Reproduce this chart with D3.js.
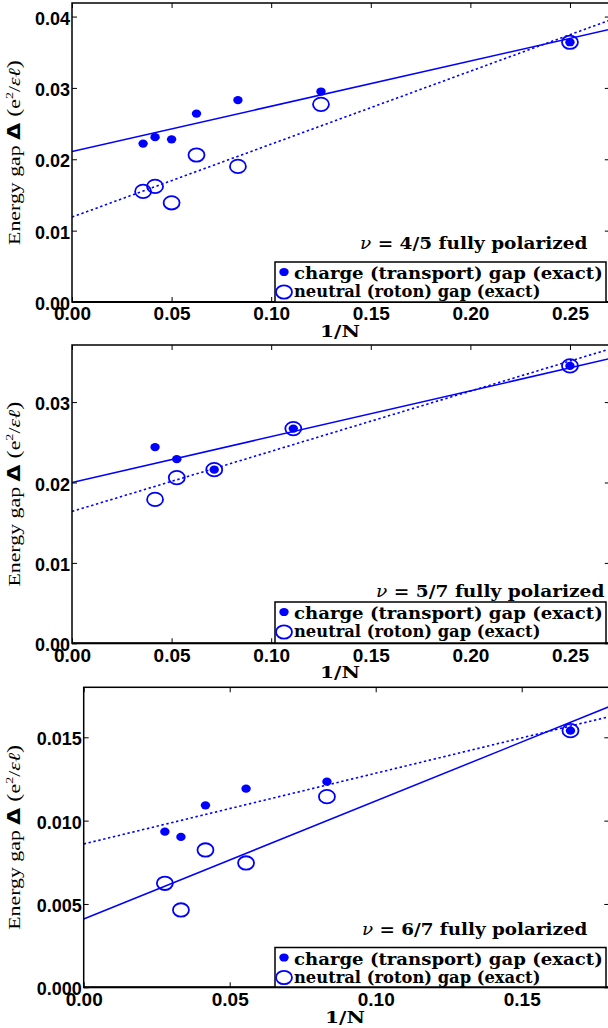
<!DOCTYPE html>
<html><head><meta charset="utf-8">
<script src="https://cdn.jsdelivr.net/npm/d3@7"></script>
<style>body{margin:0;background:#fff}</style>
</head><body><svg id="c" width="608" height="1028" xmlns="http://www.w3.org/2000/svg"></svg>
<script>
// ---------- data ----------
const nuLabels = ["4/5", "5/7", "6/7"];
const legendLabels = ["charge (transport) gap (exact)", "neutral (roton) gap (exact)"];

// panel 1 : nu = 4/5
const invN1    = [0.0357, 0.0417, 0.0500, 0.0625, 0.0833, 0.1250, 0.2500];
const charge1  = [0.0222, 0.0231, 0.0228, 0.0264, 0.0283, 0.0295, 0.0364];
const neutral1 = [0.0155, 0.0162, 0.0139, 0.0206, 0.0190, 0.0277, 0.0364];
const fitX1 = [0, 0.27];
const fitSolid1  = [0.0211, 0.0382];
const fitDotted1 = [0.0119, 0.0395];

// panel 2 : nu = 5/7
const invN2    = [0.0417, 0.0526, 0.0714, 0.1111, 0.2500];
const charge2  = [0.0244, 0.0229, 0.0216, 0.0267, 0.0345];
const neutral2 = [0.0179, 0.0206, 0.0216, 0.0267, 0.0345];
const fitX2 = [0, 0.27];
const fitSolid2  = [0.0200, 0.0354];
const fitDotted2 = [0.0164, 0.0366];

// panel 3 : nu = 6/7
const invN3    = [0.0278, 0.0333, 0.0417, 0.0556, 0.0833, 0.1667];
const charge3  = [0.00934, 0.00902, 0.01092, 0.01192, 0.01234, 0.0154];
const neutral3 = [0.00624, 0.00464, 0.00824, 0.00746, 0.01144, 0.0154];
const fitX3 = [0, 0.18];
const fitSolid3  = [0.0041, 0.01684];
const fitDotted3 = [0.0086, 0.01624];

const xTicks12 = [0, 0.05, 0.10, 0.15, 0.20, 0.25];
const xTicks3  = [0, 0.05, 0.10, 0.15];
const yTicks1 = [0, 0.01, 0.02, 0.03, 0.04];
const yTicks2 = [0, 0.01, 0.02, 0.03];
const yTicks3 = [0, 0.005, 0.010, 0.015];

// ---------- layout ----------
const BLUE = "#0000ff";
const panels = [
  {nu: nuLabels[0], xs: invN1, charge: charge1, neutral: neutral1, fitX: fitX1, solid: fitSolid1, dotted: fitDotted1,
   xDom: [0, 0.27], yDom: [0, 0.0419], xTicks: xTicks12, yTicks: yTicks1, yFmt: ".2f",
   box: {l: 72, t: 3, r: 609.8, b: 302}, leg: {l: 275, t: 262, r: 606, b: 302},
   nuPos: {x0: 360, x1: 588, y: 249}, xl: {cx: 340, y: 337}},
  {nu: nuLabels[1], xs: invN2, charge: charge2, neutral: neutral2, fitX: fitX2, solid: fitSolid2, dotted: fitDotted2,
   xDom: [0, 0.27], yDom: [0, 0.0371], xTicks: xTicks12, yTicks: yTicks2, yFmt: ".2f",
   box: {l: 72, t: 345, r: 609.8, b: 643.3}, leg: {l: 275, t: 602, r: 606, b: 643},
   nuPos: {x0: 376, x1: 605, y: 597}, xl: {cx: 340, y: 678}},
  {nu: nuLabels[2], xs: invN3, charge: charge3, neutral: neutral3, fitX: fitX3, solid: fitSolid3, dotted: fitDotted3,
   xDom: [0, 0.18], yDom: [0, 0.018], xTicks: xTicks3, yTicks: yTicks3, yFmt: ".3f",
   box: {l: 83.7, t: 687.3, r: 609.3, b: 987.3}, leg: {l: 275, t: 947.5, r: 606, b: 987},
   nuPos: {x0: 362, x1: 588, y: 935}, xl: {cx: 345, y: 1023}}
];

const svg = d3.select("#c");

function fitStart(sel, x0, x1, y) {
  const w = sel.node().getBBox().width;
  const s = (x1 - x0) / w;
  sel.attr("transform", `translate(${x0},${y}) scale(${s},1)`);
}
function fitCenter(sel, cx, width, y) {
  const w = sel.node().getBBox().width;
  const s = width / w;
  sel.attr("text-anchor", "middle").attr("transform", `translate(${cx},${y}) scale(${s},1)`);
}

panels.forEach((p, i) => {
  const g = svg.append("g");
  const B = p.box;
  const x = d3.scaleLinear().domain(p.xDom).range([B.l, B.r]);
  const y = d3.scaleLinear().domain(p.yDom).range([B.b, B.t]);

  const clipId = "clip" + i;
  g.append("clipPath").attr("id", clipId).append("rect")
    .attr("x", B.l).attr("y", B.t).attr("width", B.r - B.l).attr("height", B.b - B.t);

  const plot = g.append("g").attr("clip-path", `url(#${clipId})`);

  const line = d3.line().x(d => x(d[0])).y(d => y(d[1]));
  plot.append("path").datum(d3.zip(p.fitX, p.solid))
    .attr("d", line).attr("fill", "none").attr("stroke", BLUE).attr("stroke-width", 1.5);
  plot.append("path").datum(d3.zip(p.fitX, p.dotted))
    .attr("d", line).attr("fill", "none").attr("stroke", BLUE).attr("stroke-width", 1.6)
    .attr("stroke-dasharray", "2.4,2.6");

  plot.selectAll(".open").data(d3.zip(p.xs, p.neutral)).join("ellipse")
    .attr("cx", d => x(d[0])).attr("cy", d => y(d[1]))
    .attr("rx", 8).attr("ry", 6.7).attr("fill", "none").attr("stroke", BLUE).attr("stroke-width", 1.8);
  plot.selectAll(".dot").data(d3.zip(p.xs, p.charge)).join("ellipse")
    .attr("cx", d => x(d[0])).attr("cy", d => y(d[1]))
    .attr("rx", 4.7).attr("ry", 4.1).attr("fill", BLUE);

  // axes
  const styleAxis = a => {
    a.select(".domain").remove();
    a.selectAll(".tick line").attr("stroke", "#000").attr("stroke-width", 1);
    a.selectAll(".tick text").attr("font-family", "Liberation Sans, Arial, sans-serif").attr("font-weight", "bold")
      .attr("font-size", "18px").attr("fill", "#000");
  };
  g.append("g").attr("transform", `translate(0,${B.b})`)
    .call(d3.axisBottom(x).tickValues(p.xTicks).tickFormat(d3.format(".2f")).tickSizeInner(-5).tickSizeOuter(0).tickPadding(5))
    .call(styleAxis).call(a => a.selectAll(".tick text").attr("font-size", "19px"));
  g.append("g").attr("transform", `translate(0,${B.t})`)
    .call(d3.axisTop(x).tickValues(p.xTicks).tickFormat("").tickSizeInner(-5).tickSizeOuter(0))
    .call(styleAxis);
  g.append("g").attr("transform", `translate(${B.l},0)`)
    .call(d3.axisLeft(y).tickValues(p.yTicks).tickFormat(d3.format(p.yFmt)).tickSizeInner(-5).tickSizeOuter(0).tickPadding(2))
    .call(styleAxis).call(a => a.selectAll(".tick text").attr("dy", "0.42em"));
  g.append("g").attr("transform", `translate(${B.r},0)`)
    .call(d3.axisRight(y).tickValues(p.yTicks).tickFormat("").tickSizeInner(-5).tickSizeOuter(0))
    .call(styleAxis);

  g.append("rect").attr("x", B.l).attr("y", B.t).attr("width", B.r - B.l).attr("height", B.b - B.t)
    .attr("fill", "none").attr("stroke", "#000").attr("stroke-width", 1.5);
  g.append("line").attr("x1", B.l).attr("x2", B.r).attr("y1", B.b).attr("y2", B.b)
    .attr("stroke", "#000").attr("stroke-width", 2);

  // nu label
  const nuT = g.append("text").attr("font-family", "DejaVu Serif").attr("font-size", "16.5px").attr("fill", "#000");
  nuT.append("tspan").attr("font-style", "italic").text("ν");
  nuT.append("tspan").attr("font-weight", "bold").text(` = ${p.nu} fully polarized`);
  fitStart(nuT, p.nuPos.x0, p.nuPos.x1, p.nuPos.y);

  // legend
  const L = p.leg;
  g.append("rect").attr("x", L.l).attr("y", L.t).attr("width", L.r - L.l).attr("height", L.b - L.t)
    .attr("fill", "#fff").attr("stroke", "#000").attr("stroke-width", 1.5);
  g.append("ellipse").attr("cx", L.l + 9).attr("cy", L.t + 10).attr("rx", 4.7).attr("ry", 4.1).attr("fill", BLUE);
  g.append("ellipse").attr("cx", L.l + 9).attr("cy", L.t + 30).attr("rx", 8).attr("ry", 6.7)
    .attr("fill", "none").attr("stroke", BLUE).attr("stroke-width", 1.8);
  const lt1 = g.append("text").attr("font-family", "DejaVu Serif").attr("font-weight", "bold")
    .attr("font-size", "17px").attr("fill", "#000").text(legendLabels[0]);
  fitStart(lt1, L.l + 19, L.l + 328, L.t + 17);
  const lt2 = g.append("text").attr("font-family", "DejaVu Serif").attr("font-weight", "bold")
    .attr("font-size", "17px").attr("fill", "#000").text(legendLabels[1]);
  fitStart(lt2, L.l + 19, L.l + 265.7, L.t + 35);

  // x label
  const xl = g.append("text").attr("font-family", "DejaVu Serif").attr("font-weight", "bold")
    .attr("font-size", "17px").attr("fill", "#000").text("1/N");
  fitCenter(xl, p.xl.cx, 40, p.xl.y);

  // y label
  const cy = (B.t + B.b) / 2;
  const yl = g.append("text").attr("font-family", "Liberation Serif").attr("font-size", "17px")
    .attr("fill", "#000").attr("text-anchor", "middle");
  yl.append("tspan").text("Energy gap ");
  yl.append("tspan").attr("font-family", "DejaVu Sans").attr("font-weight", "bold").attr("font-size", "17px").text("Δ");
  yl.append("tspan").attr("font-size", "19px").text(" (");
  yl.append("tspan").text("e");
  yl.append("tspan").attr("font-size", "11px").attr("dy", "-7").text("2");
  yl.append("tspan").attr("dy", "7").text("/");
  yl.append("tspan").attr("font-style", "italic").text("εℓ");
  yl.append("tspan").attr("font-size", "19px").text(")");
  const w = yl.node().getBBox().width;
  yl.attr("transform", `translate(20,${cy}) rotate(-90) scale(${185 / w},1)`);
});
</script></body></html>
